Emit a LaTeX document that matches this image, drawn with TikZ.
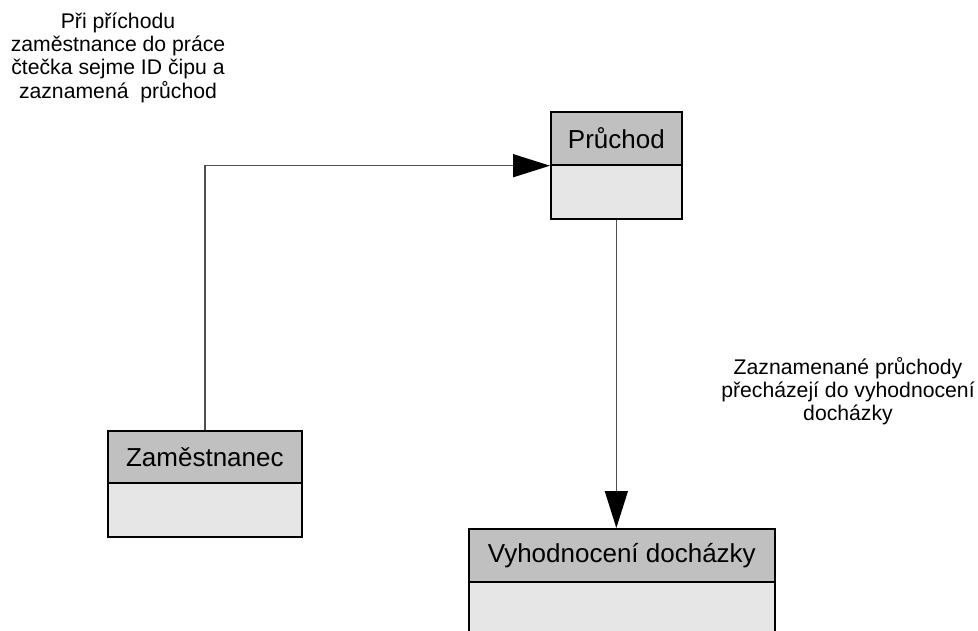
\documentclass[tikz,border=0pt]{standalone}
\usepackage{fontspec}
\setmainfont{Liberation Sans}
\usetikzlibrary{arrows.meta}
\definecolor{hdrgray}{HTML}{C0C0C0}
\definecolor{bodygray}{HTML}{E6E6E6}
\definecolor{linegray}{HTML}{505050}
\begin{document}
\begin{tikzpicture}[x=1pt,y=-1pt,
  hdr/.style={draw=black, line width=1.7pt, fill=hdrgray, inner sep=0pt, anchor=north west, font=\fontsize{26}{30}\selectfont},
  bodybox/.style={draw=black, line width=1.7pt, fill=bodygray, inner sep=0pt, anchor=north west},
  conn/.style={draw=linegray, line width=1.5pt, -{Triangle[length=37pt,width=23pt,black]}},
  lbl/.style={align=center, inner sep=0pt, anchor=north, font=\fontsize{21.2}{23.3}\selectfont}]
\useasboundingbox (0,0) rectangle (978,631);
\clip (0,0) rectangle (978,631);
% Průchod
\node[bodybox, minimum width=131pt, minimum height=54pt] (pB) at (550,164) {};
\node[hdr, minimum width=131pt, minimum height=53pt] (pH) at (550,111) {Průchod};
% Zaměstnanec
\node[bodybox, minimum width=194pt, minimum height=54pt] (zB) at (107,482) {};
\node[hdr, minimum width=194pt, minimum height=52pt] (zH) at (107,430) {Zaměstnanec};
% Vyhodnocení docházky
\node[bodybox, minimum width=306pt, minimum height=120pt] (vB) at (468,581) {};
\node[hdr, minimum width=306pt, minimum height=53pt] (vH) at (468,528) {Vyhodnocení docházky};
% connectors
\draw[conn] (zH.north) |- (pH.south west);
\draw[conn] (pB.south) -- (pB.south |- vH.north);
% labels
\node[lbl] (l1) at (118,12.5) {Při příchodu\\zaměstnance do práce\\čtečka sejme ID čipu a\\zaznamená\ \ průchod};
\node[lbl] (l2) at (848,357) {Zaznamenané průchody\\přecházejí do vyhodnocení\\docházky};
\end{tikzpicture}
\end{document}
